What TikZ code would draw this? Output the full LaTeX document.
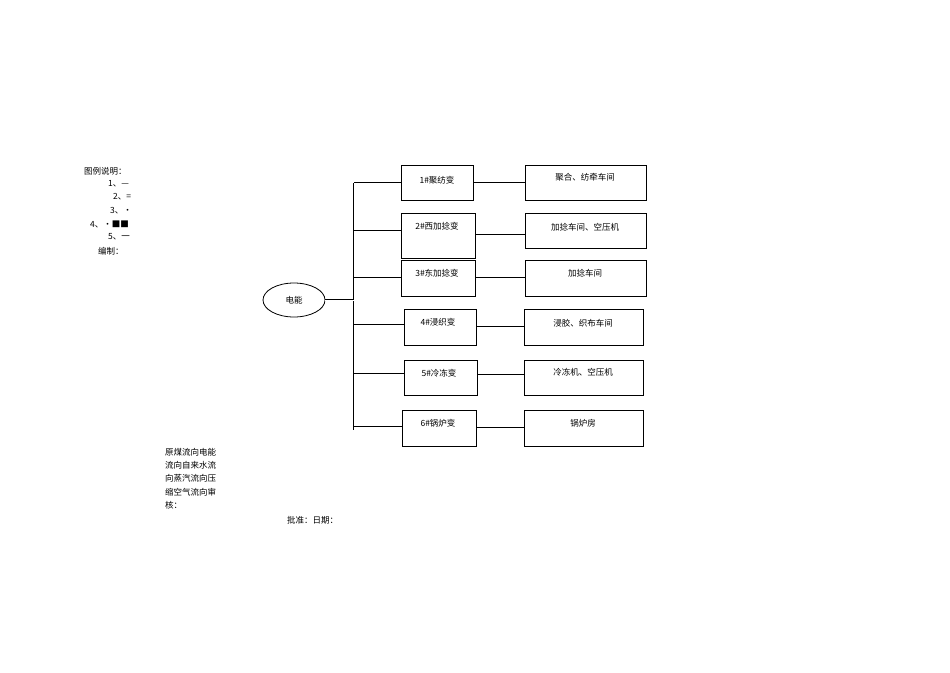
\documentclass[tikz,border=0pt]{standalone}
\usepackage{fontspec}
\usetikzlibrary{shapes.geometric}
\setmainfont{Liberation Serif}
\newfontfamily\cjk{Noto Sans CJK SC}
\begin{document}
\begin{tikzpicture}[x=1pt,y=-1pt,
  bx/.style={draw,line width=0.8pt,anchor=north west,inner sep=0pt},
  lbl/.style={font=\cjk\fontsize{8.5}{10}\selectfont,inner sep=0pt},
  dlo/.style={draw=black,line width=2.6pt},
  dli/.style={draw=white,line width=1pt}]
\useasboundingbox (0,0) rectangle (950,672);
\foreach \n/\l/\t/\r/\b in {a1/401/165/473/200,a2/401/213/475/258,a3/401/260/475/296,a4/404/309/476/345,a5/404/360/477/395,a6/402/410/476/446,
  b1/525/165/646/200,b2/525/213/646/248,b3/525/260/646/296,b4/524/309/643/345,b5/524/360/643/395,b6/524/410/643/446}
  \node[bx,minimum width={\r-\l},minimum height={\b-\t}] (\n) at (\l,\t) {};
\node[lbl] at (437,180) {1\#聚纺变};
\node[lbl] at (437,226) {2\#西加捻变};
\node[lbl] at (437,273) {3\#东加捻变};
\node[lbl] at (438,322) {4\#浸织变};
\node[lbl] at (439,373) {5\#冷冻变};
\node[lbl] at (438,423) {6\#锅炉变};
\node[lbl] at (585,177) {聚合、纺牵车间};
\node[lbl] at (585,227) {加捻车间、空压机};
\node[lbl] at (585,273) {加捻车间};
\node[lbl] at (583,323) {浸胶、织布车间};
\node[lbl] at (583,372) {冷冻机、空压机};
\node[lbl] at (583,423) {锅炉房};
\node[draw,ellipse,line width=0.8pt,minimum width=62pt,minimum height=34pt,inner sep=0pt,lbl] (e) at (294,300) {电能};
\coordinate (t1) at (354,183); \coordinate (t6) at (354,430); \coordinate (te) at (354,300);
\foreach \s in {dlo,dli}{
  \draw[\s] (t1) -- (t6);
  \draw[\s] (e.east) -- (te);
  \draw[\s] (t1) -- (a1.west|-t1);
}
\foreach \n/\y in {a2/231,a3/278,a4/325,a5/374,a6/427}{
  \coordinate (ty) at (354,\y);
  \draw[dlo] (ty) -- (\n.west|-ty);
  \draw[dli] (ty) -- (\n.west|-ty);
}
\foreach \i/\y in {1/183,2/235,3/278,4/327,5/375,6/428}{
  \coordinate (cy) at (0,\y);
  \draw[dlo] (a\i.east|-cy) -- (b\i.west|-cy);
  \draw[dli] (a\i.east|-cy) -- (b\i.west|-cy);
}
\node[lbl,anchor=west] at (84,171) {图例说明：};
\node[lbl,anchor=west] at (108,184) {1、—};
\node[lbl,anchor=west] at (113,197) {2、=};
\node[lbl,anchor=west] at (110,211) {3、·};
\node[lbl,anchor=west] at (90,224) {4、·■■};
\node[lbl,anchor=west] at (108,237) {5、一};
\node[lbl,anchor=west] at (98,251) {编制：};
\node[lbl,anchor=north west,align=left,font=\cjk\fontsize{8.5}{13.3}\selectfont] at (165,448) {原煤流向电能\\流向自来水流\\向蒸汽流向压\\缩空气流向审\\核：};
\node[lbl,anchor=west] at (287,520) {批准：日期：};
\end{tikzpicture}
\end{document}
